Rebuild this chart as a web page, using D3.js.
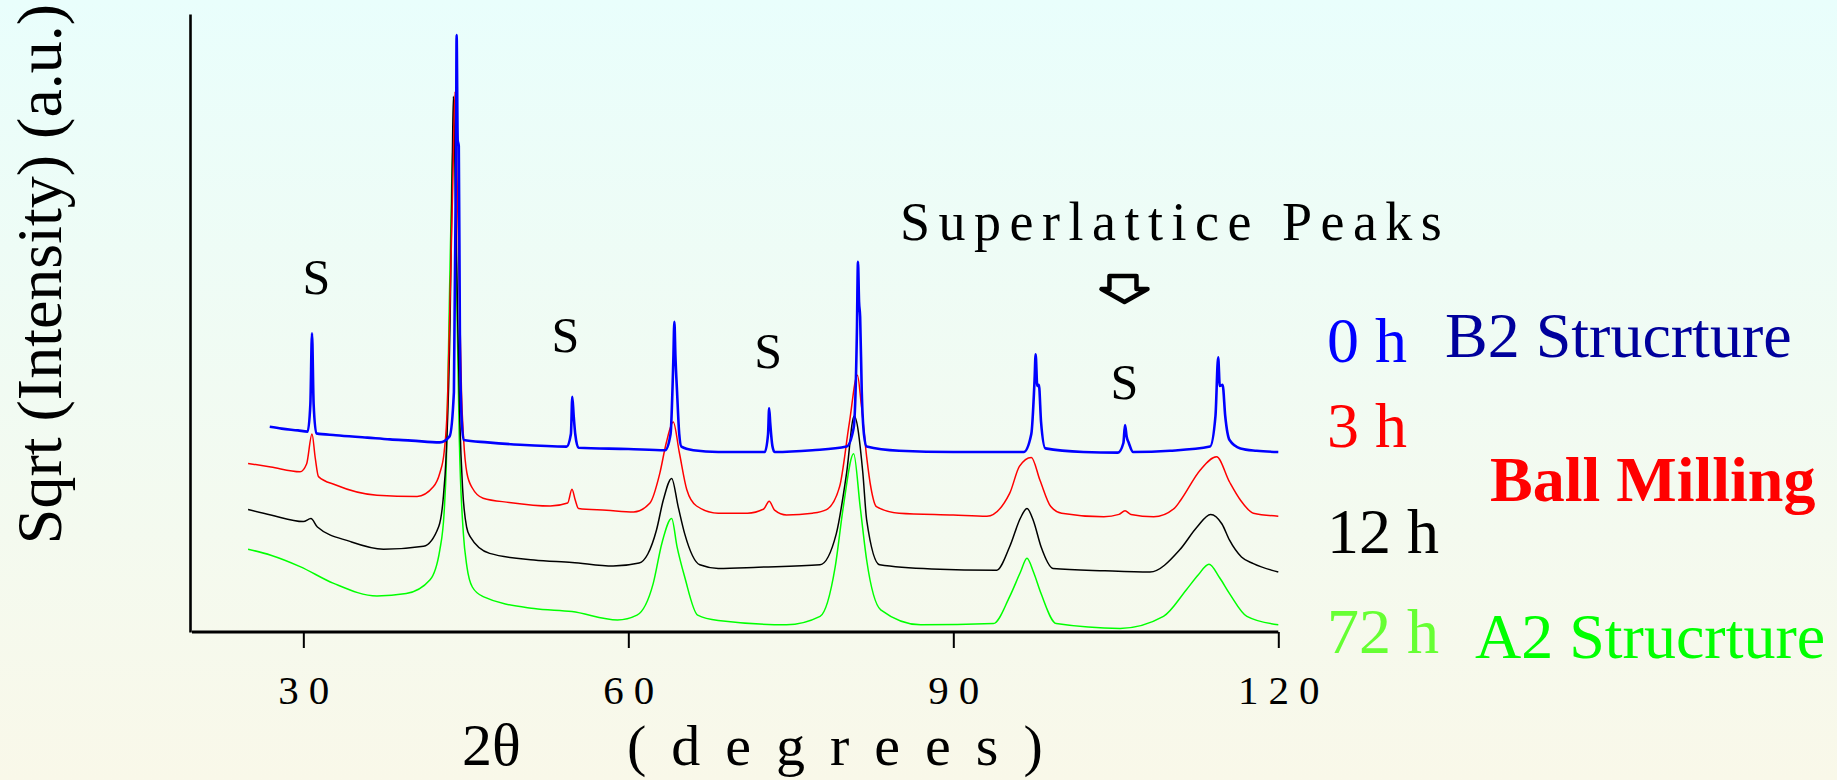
<!DOCTYPE html>
<html>
<head>
<meta charset="utf-8">
<script src="https://cdn.jsdelivr.net/npm/d3@7"></script>
<style>
    html, body { margin: 0; padding: 0; overflow: hidden; }
    svg { display: block; font-family: "Liberation Serif", "Times New Roman", serif; }
</style>
</head>
<body>
<svg id="chart" width="1837" height="780"></svg>
<script>
document.addEventListener('DOMContentLoaded', () => {
    const W = 1837, H = 780;

    // DATA (2theta in degrees, sqrt intensity in a.u.) ==========================
    const hours = ['0 h', '3 h', '12 h', '72 h'];
    const colors = ['#0000ff', '#ff0000', '#000000', '#00ff00'];

    const xrd0h = [
        [26.9, 34.2], [28, 33.9], [29.5, 33.6], [30.4, 33.4], [30.65, 38], [30.8, 49.8], [30.95, 38], [31.2, 33.1],
        [33, 32.8], [35.9, 32.4], [38, 32.1], [40, 31.9], [42.6, 31.6], [43.5, 32.6], [43.9, 40], [44.1, 80],
        [44.15, 99.5], [44.25, 82], [44.35, 81], [44.45, 50], [44.6, 36], [44.8, 32], [47, 31.6], [50, 31.2],
        [54.3, 30.9], [54.7, 33], [54.83, 39.2], [54.95, 36.2], [55.1, 33], [55.4, 30.7], [60, 30.5], [63.4, 30.3],
        [63.9, 33], [64.15, 45], [64.25, 51.7], [64.35, 45.9], [64.5, 40], [64.7, 33], [64.9, 30.9], [66, 30.3],
        [68.3, 30], [72.6, 30], [72.9, 33], [73.0, 37.3], [73.1, 34.8], [73.3, 31], [73.5, 30], [77, 30.3],
        [80.15, 30.9], [80.8, 34], [81.1, 50], [81.2, 61.7], [81.3, 55], [81.4, 52.5], [81.55, 40], [81.75, 33],
        [82.0, 30.9], [85, 30.2], [90, 30], [96.5, 30], [97.2, 33], [97.5, 42], [97.6, 46.3], [97.75, 41],
        [97.9, 41.2], [98.1, 35], [98.5, 30.6], [102, 30], [105.2, 29.9], [105.7, 31.5], [105.85, 34.5], [106.0, 32.6],
        [106.2, 31.5], [106.6, 30], [110, 30.2], [113.7, 30.9], [114.2, 36], [114.45, 45.8], [114.6, 41], [114.86, 41.2],
        [115.1, 36], [115.5, 32], [116.5, 30.6], [118, 30.2], [120, 30]
    ];

    const xrd3h = [
        [24.9, 28.1], [27, 27.5], [29.7, 26.7], [30.3, 28], [30.8, 33], [31.1, 29], [31.4, 25.9], [33, 24.5],
        [36.8, 22.8], [40.5, 22.6], [42, 24.2], [42.6, 26.5], [43.0, 30], [43.3, 38], [43.5, 52], [43.8, 75],
        [44.0, 90], [44.2, 75], [44.46, 52], [44.6, 40], [44.8, 32], [45.1, 26.5], [45.6, 24], [46.6, 22.3],
        [49, 21.6], [52.8, 21], [54.4, 21.5], [54.8, 23.8], [55.1, 22], [55.4, 20.6], [58, 20.3], [60.5, 20],
        [62, 21.5], [62.9, 26.4], [63.5, 31.5], [64.15, 35], [64.7, 30], [65.4, 23.7], [66.3, 21], [68.3, 19.8],
        [71, 19.8], [72.5, 20.5], [73.0, 21.8], [73.5, 20.3], [74.6, 19.5], [77, 19.8], [78.3, 20.4], [79.5, 24.2],
        [80.4, 34.8], [81.15, 42.8], [81.5, 38], [82.0, 29.2], [82.4, 24], [82.9, 20.9], [85, 19.8], [90, 19.5],
        [93.1, 19.3], [95.2, 23.1], [96.1, 27.6], [97.2, 29.1], [98.0, 25.3], [99.0, 20.9], [100, 19.8], [103.9, 19.2],
        [105.3, 19.6], [105.85, 20.2], [106.4, 19.6], [108.5, 19.2], [110.4, 20.6], [111, 22], [112.8, 27], [114.3, 29.2],
        [115.5, 25], [116.5, 22], [117.7, 19.8], [120, 19.3]
    ];

    const xrd12h = [
        [24.9, 20.4], [27, 19.5], [30, 18.4], [30.7, 18.9], [31.3, 17.5], [34.3, 15.1], [37.4, 13.8], [41.1, 14.3],
        [42.5, 17.6], [42.9, 22], [43.2, 30], [43.55, 52], [43.75, 78], [43.85, 89.3], [44.0, 78], [44.25, 52],
        [44.45, 35], [44.7, 24], [45.07, 17.5], [45.4, 15.9], [47.2, 13.1], [51.3, 12], [54.8, 11.6], [58.6, 11],
        [61.0, 11.5], [61.8, 13], [62.6, 17], [63.23, 22], [64.0, 25.6], [64.6, 20.9], [65.2, 16.4], [66.6, 11.2],
        [68.3, 10.6], [72, 10.8], [77.7, 11.2], [79.2, 16.4], [80.15, 26.5], [80.85, 36], [81.65, 26.5], [82.0, 18.7],
        [83.2, 11.2], [88, 10.5], [94.0, 10.3], [95.2, 14.2], [96.2, 19], [96.8, 20.6], [97.4, 18.5], [98.1, 14.2],
        [99.2, 10.6], [104, 10.2], [108.15, 10], [110.9, 13.7], [112.5, 17.5], [113.75, 19.6], [114.8, 18], [115.5, 15.3],
        [116.6, 12.5], [117.7, 11.4], [120, 10]
    ];

    const xrd72h = [
        [24.9, 13.8], [27, 12.8], [29.7, 10.9], [32.8, 8.1], [36.8, 6], [39.5, 6.4], [41.7, 8.7], [42.6, 13.7],
        [43.0, 20], [43.2, 28], [43.45, 52], [43.7, 75], [43.9, 83.7], [44.05, 72], [44.2, 52], [44.4, 32],
        [44.77, 16.5], [45.1, 10.9], [45.6, 7.5], [46.6, 5.9], [51.3, 3.9], [54.8, 3.4], [59, 2], [60.8, 2.8],
        [62.3, 8.1], [63.1, 14.8], [64.0, 18.9], [64.5, 14.2], [65.2, 9.2], [66.4, 2.8], [68.3, 1.9], [74.6, 1.2],
        [77.7, 2.6], [79.1, 10.9], [79.85, 20.9], [80.8, 29.7], [81.4, 20.9], [82.0, 12], [83.3, 3.7], [87, 1.2],
        [93.7, 1.4], [95.2, 5.9], [96.2, 10], [96.8, 12.3], [97.4, 10], [98.1, 6.4], [99.5, 1.4], [105.4, 0.6],
        [109.4, 2.6], [111.5, 7], [112.6, 9.5], [113.6, 11.3], [114.6, 9], [115.5, 6.4], [117.1, 2.6], [120, 1.2]
    ];

    const series = [xrd0h, xrd3h, xrd12h, xrd72h];

    const xTicks = [30, 60, 90, 120];
    // superlattice reflections marked "S": [2theta, label height]
    const sLabels = [[31.2, 56.3], [54.2, 46.7], [72.9, 44], [105.8, 38.8]];

    // SCALES ==================================================================
    const svg = d3.select('#chart');

    const xScale = d3.scaleLinear().domain([20, 120]).range([195, 1278.3]);
    const yScale = d3.scaleLinear().domain([0, 103]).range([632, 14]);

    // background gradient
    const grad = svg.append('defs').append('linearGradient')
        .attr('id', 'bg').attr('x1', 0).attr('y1', 0).attr('x2', 0).attr('y2', 1);
    grad.append('stop').attr('offset', '0%').attr('stop-color', '#e9fefc');
    grad.append('stop').attr('offset', '100%').attr('stop-color', '#f9f8e9');
    svg.append('rect').attr('width', W).attr('height', H).attr('fill', 'url(#bg)');

    // CURVES ==================================================================
    const line = d3.line()
        .x(d => xScale(d[0]))
        .y(d => yScale(d[1]))
        .curve(d3.curveMonotoneX);

    // draw 72h first so the 0h trace ends up on top
    [3, 2, 1, 0].forEach(i => {
        svg.append('path')
            .datum(series[i])
            .attr('d', line)
            .attr('fill', 'none')
            .attr('stroke', colors[i])
            .attr('stroke-width', i === 0 ? 2.6 : 1.5)
            .attr('stroke-linejoin', 'round');
    });

    // AXES ====================================================================
    const xAxis = d3.axisBottom(xScale)
        .tickValues(xTicks)
        .tickSize(16)
        .tickSizeOuter(0)
        .tickFormat(d => d);

    const gx = svg.append('g')
        .attr('transform', `translate(0,${yScale(0)})`)
        .call(xAxis);
    gx.select('.domain')
        .attr('d', `M${xScale(20) - 3},0H${xScale(120)}`)
        .attr('stroke', '#000').attr('stroke-width', 3.2);
    gx.selectAll('.tick line').attr('stroke', '#000').attr('stroke-width', 2);
    gx.selectAll('.tick text')
        .attr('y', 72).attr('dy', 0).attr('dx', 5)
        .attr('fill', '#000')
        .style('font-family', '"Liberation Serif", serif')
        .style('font-size', '41px')
        .style('letter-spacing', '10px');

    const gy = svg.append('g')
        .attr('transform', `translate(${xScale(20) - 5},0)`)
        .call(d3.axisLeft(yScale).tickValues([]).tickSizeOuter(0));
    gy.select('.domain').attr('stroke', '#000').attr('stroke-width', 2.6);

    // TEXT ====================================================================
    svg.append('text')
        .attr('transform', 'translate(61,274) rotate(-90)')
        .attr('text-anchor', 'middle')
        .style('font-size', '64px')
        .text('Sqrt (Intensity) (a.u.)');

    svg.append('text')
        .attr('x', 462).attr('y', 765)
        .style('font-size', '60px')
        .text('2θ');
    svg.append('text')
        .attr('x', 627).attr('y', 765)
        .style('font-size', '58px')
        .style('letter-spacing', '25px')
        .text('(degrees)');

    svg.selectAll('.s-label')
        .data(sLabels)
        .enter().append('text')
        .attr('class', 's-label')
        .attr('x', d => xScale(d[0]))
        .attr('y', d => yScale(d[1]))
        .attr('text-anchor', 'middle')
        .style('font-size', '50px')
        .text('S');

    svg.append('text')
        .attr('x', 900).attr('y', 240)
        .style('font-size', '54px')
        .style('letter-spacing', '8.5px')
        .text('Superlattice Peaks');

    // hollow down arrow over the 106 degree superlattice peak
    const ax = xScale(105.8);
    svg.append('path')
        .attr('d', `M${ax - 15},276 H${ax + 12} V289 H${ax + 23} L${ax},302 L${ax - 23},289 H${ax - 15} Z`)
        .attr('fill', 'none')
        .attr('stroke', '#000')
        .attr('stroke-width', 4.5)
        .attr('stroke-linejoin', 'round');

    // series labels
    const labelY = [362, 447, 553, 653];
    const labelFill = ['#0000ff', '#ff0000', '#000000', '#66ff33'];
    svg.selectAll('.h-label')
        .data(hours)
        .enter().append('text')
        .attr('class', 'h-label')
        .attr('x', 1327)
        .attr('y', (d, i) => labelY[i])
        .attr('fill', (d, i) => labelFill[i])
        .style('font-size', '64px')
        .text(d => d);

    svg.append('text')
        .attr('x', 1445).attr('y', 357)
        .attr('fill', '#00009c')
        .style('font-size', '64px')
        .text('B2 Strucrture');

    svg.append('text')
        .attr('x', 1490).attr('y', 501)
        .attr('fill', '#ff0000')
        .style('font-size', '64px')
        .style('font-weight', 'bold')
        .text('Ball Milling');

    svg.append('text')
        .attr('x', 1475).attr('y', 658)
        .attr('fill', '#00ff00')
        .style('font-size', '64px')
        .text('A2 Strucrture');
});
</script>
</body>
</html>
